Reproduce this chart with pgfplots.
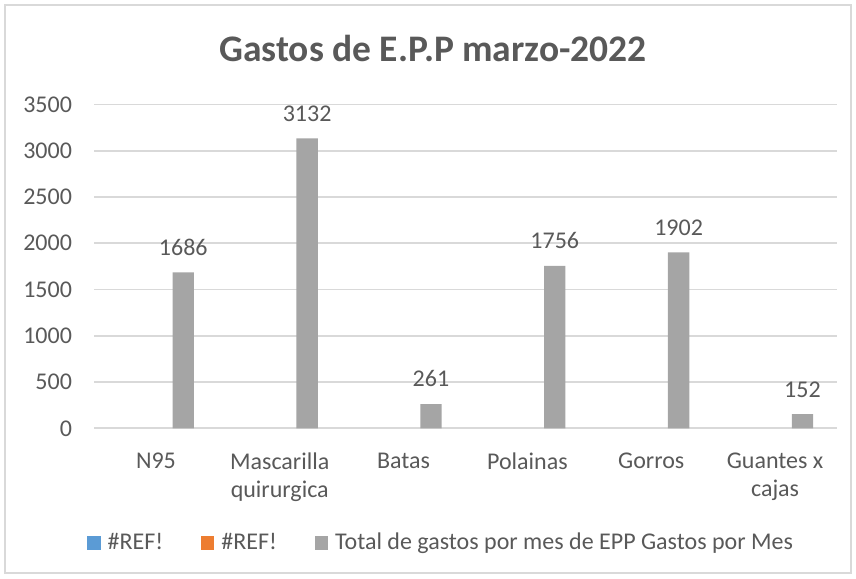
\documentclass[border=0pt]{standalone}
\usepackage{fontspec}
\setmainfont{Carlito}
\usepackage{pgfplots}
\pgfplotsset{compat=1.18}
\definecolor{txt}{HTML}{595959}
\definecolor{gridc}{HTML}{D9D9D9}
\definecolor{barg}{HTML}{A5A5A5}
\definecolor{sblue}{HTML}{5B9BD5}
\definecolor{sorange}{HTML}{ED7D31}
\pgfplotsset{sqlegend/.style={legend image code/.code={\fill[##1] (0pt,-3.3pt) rectangle (6.6pt,3.3pt);}}}
\begin{document}
\begin{tikzpicture}
\draw[gridc, line width=0.6pt] (2.5pt,2.5pt) rectangle (425.5pt,286.5pt);
\node[anchor=base, font=\fontsize{18.75}{22}\selectfont\bfseries, text=txt, inner sep=0pt] at (216.5pt,258pt) {Gastos de E.P.P marzo-2022};
\begin{axis}[
  at={(47pt,74.85pt)}, anchor=south west,
  scale only axis, width=371.5pt, height=161.95pt,
  xmin=-0.5, xmax=5.5, ymin=0, ymax=3500,
  ytick={0,500,...,3500},
  xtick={0,...,5},
  xticklabels={N95,{Mascarilla\\quirurgica},Batas,Polainas,Gorros,{Guantes x\\cajas}},
  axis line style={draw=none},
  major tick length=0pt,
  ymajorgrids, grid style={gridc, line width=0.9pt},
  tick label style={font=\fontsize{12}{14}\selectfont, text=txt},
  /pgf/number format/assume math mode=true,
  /pgf/number format/set thousands separator={},
  yticklabel style={xshift=-7.5pt},
  xticklabel style={align=center, anchor=north, yshift=-8.8pt},
  legend columns=3,
  legend style={draw=none, fill=none, at={(-0.0094,-0.354)}, anchor=west,
    inner sep=0pt, font=\fontsize{12}{14}\selectfont, text=txt,
    nodes={inner sep=0pt, inner xsep=3.5pt},
    /tikz/every even column/.append style={column sep=15.5pt}},
  clip=false,
]
\addlegendimage{fill=sblue, draw=none, sqlegend}
\addlegendentry{\#REF!}
\addlegendimage{fill=sorange, draw=none, sqlegend}
\addlegendentry{\#REF!}
\addplot[ybar, bar width=10.65pt, bar shift=0pt, fill=barg, draw=none,
  nodes near coords,
  every node near coord/.append style={font=\fontsize{12}{14}\selectfont, text=txt, anchor=south, yshift=5pt},
  sqlegend]
  coordinates {(0.221,1686) (1.221,3132) (2.221,261) (3.221,1756) (4.221,1902) (5.221,152)};
\addlegendentry{Total de gastos por mes de EPP Gastos por Mes}
\end{axis}
\pgfresetboundingbox
\path (0pt,0pt) rectangle (428pt,289pt);
\end{tikzpicture}
\end{document}
